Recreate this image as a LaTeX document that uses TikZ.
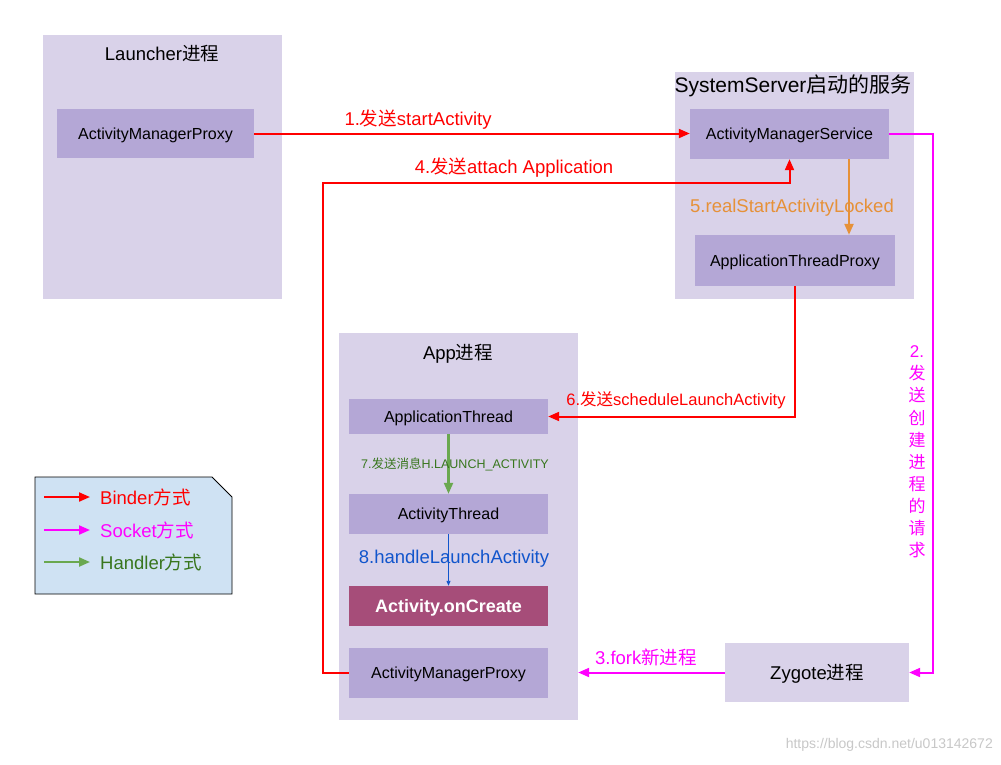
\documentclass[tikz,border=0pt]{standalone}
\usepackage{fontspec}
\setmainfont{Liberation Sans}
\newfontfamily\cjk{Noto Sans CJK SC}
\usetikzlibrary{arrows.meta}
\definecolor{procfill}{HTML}{D9D2E9}
\definecolor{innerfill}{HTML}{B4A7D6}
\definecolor{createfill}{HTML}{A64D79}
\definecolor{legfill}{HTML}{CFE2F3}
\definecolor{myred}{HTML}{FF0000}
\definecolor{mymag}{HTML}{FF00FF}
\definecolor{mygreen}{HTML}{6AA84F}
\definecolor{mygreentext}{HTML}{38761D}
\definecolor{myorange}{HTML}{E69138}
\definecolor{myblue}{HTML}{1155CC}
\definecolor{wmgray}{HTML}{C8C8C8}
\tikzset{
  procbox/.style={fill=procfill, draw=none, minimum width=239pt, inner sep=0pt},
  innerbox/.style={fill=innerfill, draw=none, minimum width=199pt, inner sep=0pt, text height=11.5pt, text depth=0pt, font=\fontsize{16}{18}\selectfont},
  titletext/.style={font=\fontsize{18.5}{22}\selectfont, inner sep=0pt},
  lbl/.style={font=\fontsize{18.5}{22}\selectfont, inner sep=0pt},
  tip/.style={-{Triangle[length=11pt,width=9pt]}},
  redarrow/.style={tip, draw=myred, line width=2pt},
  magarrow/.style={tip, draw=mymag, line width=2pt},
  greenarrow/.style={tip, draw=mygreen, line width=2.2pt},
  orangearrow/.style={tip, draw=myorange, line width=2.2pt},
  bluearrow/.style={-{Triangle[length=5pt,width=4pt]}, draw=myblue, line width=0.9pt},
}
\begin{document}
\begin{tikzpicture}[x=1pt,y=-1pt]
\useasboundingbox (0,0) rectangle (1001,764);
\fill[white] (0,0) rectangle (1001,764);

% process boxes
\node[procbox, minimum height=264pt] (launcher) at (162.5,167) {};
\node[titletext] (launchertitle) at (162,54) {Launcher{\cjk 进程}};
\node[procbox, minimum height=227pt] (sysserver) at (794.5,185.5) {};
\node[titletext, font=\fontsize{21}{25}\selectfont] (systitle) at (793,86) {SystemServer{\cjk 启动的服务}};
\node[procbox, minimum height=387pt] (app) at (458.5,526.5) {};
\node[titletext] (apptitle) at (458,354) {App{\cjk 进程}};

% inner boxes
\node[innerbox, minimum width=197pt, minimum height=49pt] (lamp) at (155.5,133.5) {ActivityManagerProxy};
\node[innerbox, minimum height=50pt] (ams) at (789.5,134) {ActivityManagerService};
\node[innerbox, minimum width=200pt, minimum height=51pt] (atp) at (795,260.5) {ApplicationThreadProxy};
\node[innerbox, minimum height=35pt] (at) at (448.5,416.5) {ApplicationThread};
\node[innerbox, minimum height=40pt] (actth) at (448.5,514) {ActivityThread};
\node[innerbox, fill=createfill, text=white, minimum height=40pt, text height=13pt, font=\fontsize{18}{20}\selectfont\bfseries] (oncreate) at (448.5,606) {Activity.onCreate};
\node[innerbox, minimum height=50pt] (amp) at (448.5,673) {ActivityManagerProxy};
\node[procbox, minimum width=184pt, minimum height=59pt, text height=13.3pt, text depth=0pt, font=\fontsize{18.5}{22}\selectfont] (zygote) at (817,672.5) {Zygote{\cjk 进程}};

% coordinates for bends
\coordinate (k4) at (323,183);
\coordinate (k2) at (933,134);
\coordinate (o5) at (849,200);

% connectors
\draw[redarrow] (lamp.east) -- (lamp.east -| ams.west);
\node[lbl, text=myred] (l1) at (418,120) {1.{\cjk 发送}startActivity};

\draw[redarrow] (amp.west) -| (k4) -| (ams.south);
\node[lbl, text=myred] (l4) at (514,168) {4.{\cjk 发送}attach Application};

\draw[orangearrow] (ams.south -| o5) -- (atp.north -| o5);
\node[lbl, text=myorange] (l5) at (792,208) {5.realStartActivityLocked};

\draw[redarrow] (atp.south) |- (at.east);
\node[lbl, text=myred, font=\fontsize{16.5}{20}\selectfont] (l6) at (676,400) {6.{\cjk 发送}scheduleLaunchActivity};

\draw[magarrow] (ams.east) -- (k2) |- (zygote.east);
\node[lbl, text=mymag, align=center, font=\fontsize{17}{22.1}\selectfont] (l2) at (917,452) {2.\\{\cjk 发}\\{\cjk 送}\\{\cjk 创}\\{\cjk 建}\\{\cjk 进}\\{\cjk 程}\\{\cjk 的}\\{\cjk 请}\\{\cjk 求}};

\draw[magarrow] (zygote.west) -- (zygote.west -| app.east);
\node[lbl, text=mymag] (l3) at (646,657) {3.fork{\cjk 新进程}};

\draw[greenarrow] (at.south) -- (actth.north);
\node[lbl, text=mygreentext, font=\fontsize{12.5}{14}\selectfont] (l7) at (455,464) {7.{\cjk 发送消息}H.LAUNCH\_ACTIVITY};

\draw[bluearrow] (actth.south) -- (oncreate.north);
\node[lbl, text=myblue] (l8) at (454,559) {8.handleLaunchActivity};

% legend
\draw[fill=legfill, line width=0.8pt] (35,477) -- (212,477) -- (232,497) -- (232,594) -- (35,594) -- cycle;
\coordinate (lga) at (44,497);
\coordinate (lgb) at (90,497);
\coordinate (lgc) at (44,530);
\coordinate (lgd) at (90,530);
\coordinate (lge) at (44,562);
\coordinate (lgf) at (90,562);
\draw[redarrow] (lga) -- (lgb);
\draw[magarrow] (lgc) -- (lgd);
\draw[greenarrow] (lge) -- (lgf);
\node[lbl, anchor=west, text=myred] (lg1) at (100,497) {Binder{\cjk 方式}};
\node[lbl, anchor=west, text=mymag] (lg2) at (100,530) {Socket{\cjk 方式}};
\node[lbl, anchor=west, text=mygreentext] (lg3) at (100,562) {Handler{\cjk 方式}};

% watermark
\node[inner sep=0pt, anchor=east, text=wmgray, font=\fontsize{14}{16}\selectfont] (wm) at (993,745) {https://blog.csdn.net/u013142672};
\end{tikzpicture}
\end{document}
